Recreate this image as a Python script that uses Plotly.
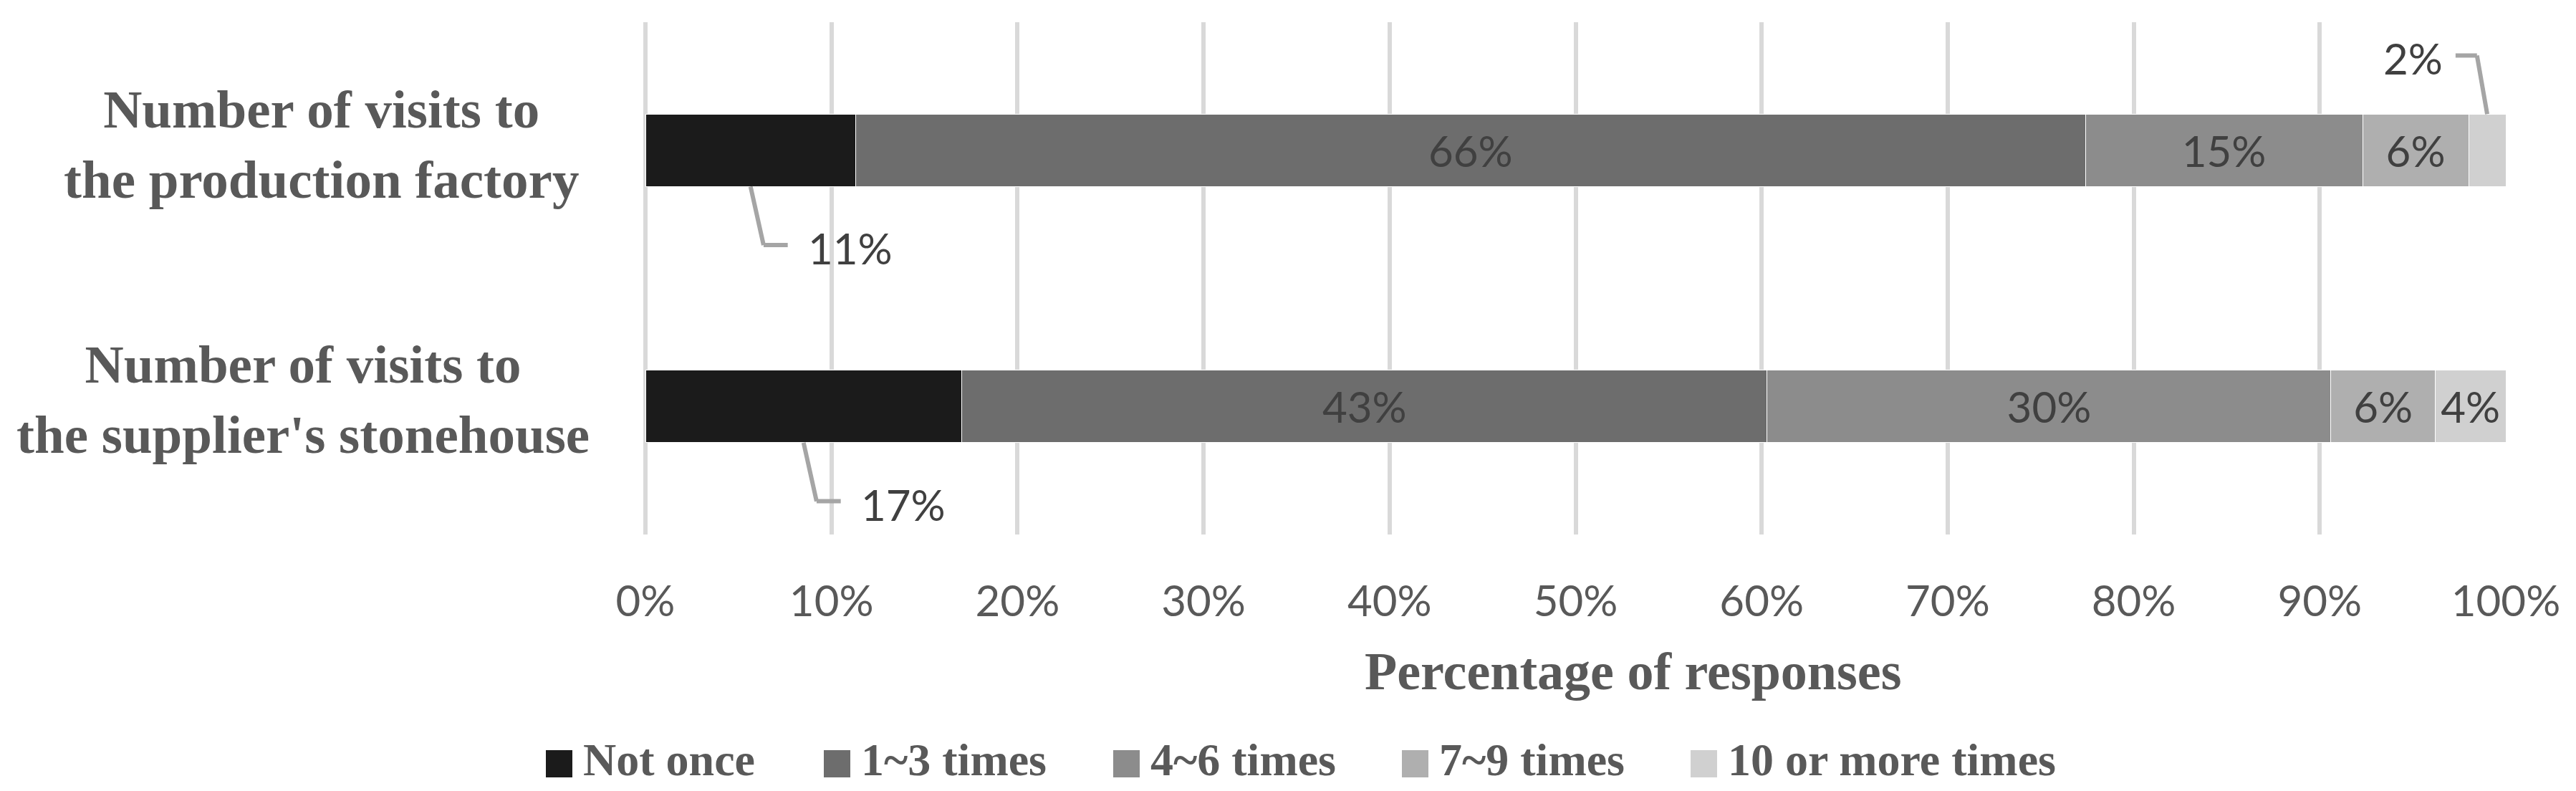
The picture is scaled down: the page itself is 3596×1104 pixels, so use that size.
import plotly.graph_objects as go

# ---------------- data ----------------
categories = ["Number of visits to the production factory",
              "Number of visits to the supplier's stonehouse"]
category_lines = [["Number of visits to", "the production factory"],
                  ["Number of visits to", "the supplier's stonehouse"]]
series_names = ["Not once", "1~3 times", "4~6 times", "7~9 times", "10 or more times"]
not_once = [11.3, 17.0]
times_1_3 = [66.1, 43.3]
times_4_6 = [14.9, 30.3]
times_7_9 = [5.7, 5.6]
times_10_plus = [2.0, 3.8]
x_tick_values = [0, 10, 20, 30, 40, 50, 60, 70, 80, 90, 100]
x_tick_labels = ["0%", "10%", "20%", "30%", "40%", "50%", "60%", "70%", "80%", "90%", "100%"]
x_title = "Percentage of responses"
# labels drawn outside the bar with a leader line: (series index, row index, direction)
outside_labels = [(0, 0, "down"), (0, 1, "down"), (4, 0, "up")]

series_values = [not_once, times_1_3, times_4_6, times_7_9, times_10_plus]

# ---------------- style ----------------
colors = ["#1b1b1b", "#6d6d6d", "#8c8c8c", "#afafaf", "#d0d0d0"]
SERIF = "Liberation Serif"
SANS = "Lato"
TXT = "#595959"
LBL = "#404040"
LEADER = "#a5a5a5"
OFF = 8  # page body margin
W, H = 3596 - OFF, 1104 - OFF
ML, MR, MT, MB = 901 - OFF, 98, 31 - OFF, 358
PW, PH = W - ML - MR, H - MT - MB
BAR_W = 0.283


def px_x(px):  # screen pixel -> paper
    return (px - OFF - ML) / PW


def px_y(py):
    return (H - MB - (py - OFF)) / PH


fig = go.Figure()
outside_set = {(s, r) for s, r, _ in outside_labels}
for si, (name, vals, col) in enumerate(zip(series_names, series_values, colors)):
    texts = ["" if (si, ri) in outside_set else f"{round(v)}%" for ri, v in enumerate(vals)]
    fig.add_trace(go.Bar(
        name=name, y=categories, x=vals, orientation="h", width=BAR_W,
        marker=dict(color=col, line=dict(color="white", width=1)),
        text=texts, textposition="inside", insidetextanchor="middle",
        constraintext="none",
        textfont=dict(family=SANS, size=60, color=LBL),
        showlegend=False, hoverinfo="skip",
    ))

annotations = []
shapes = []

# leader lines + outside data labels
for si, ri, direction in outside_labels:
    start = sum(series_values[k][ri] for k in range(si))
    v = series_values[si][ri]
    mid = start + v / 2
    sign = 1 if direction == "down" else -1
    y_edge = ri + sign * BAR_W / 2
    y_elbow = ri + sign * 0.37
    dx = 0.7 if direction == "down" else -0.55
    dend = 2.0 if direction == "down" else -1.7
    dlab = 3.0 if direction == "down" else -2.3
    line_style = dict(color=LEADER, width=6)
    shapes.append(dict(type="line", xref="x", yref="y", x0=mid, y0=y_edge,
                       x1=mid + dx, y1=y_elbow, line=line_style, layer="above"))
    shapes.append(dict(type="line", xref="x", yref="y", x0=mid + dx, y0=y_elbow,
                       x1=mid + dend, y1=y_elbow, line=line_style, layer="above"))
    annotations.append(dict(
        x=mid + dlab, y=y_elbow, xref="x", yref="y", yshift=-4,
        xanchor="left" if direction == "down" else "right", yanchor="middle",
        text=f"{round(v)}%", showarrow=False,
        font=dict(family=SANS, size=60, color=LBL)))

# category labels
label_centers = [448, 423]
label_shift = [8, 10]
for ri, lines in enumerate(category_lines):
    annotations.append(dict(
        x=px_x(label_centers[ri]), xref="paper", y=categories[ri], yref="y",
        yshift=label_shift[ri], xanchor="center", yanchor="middle", align="center",
        text="<br>".join(lines), showarrow=False,
        font=dict(family=SERIF, size=75, color=TXT, weight="bold")))

# axis title
annotations.append(dict(
    x=px_x(2279), y=px_y(937), xref="paper", yref="paper",
    xanchor="center", yanchor="middle", text=x_title, showarrow=False,
    font=dict(family=SERIF, size=74, color=TXT, weight="bold")))

# legend (drawn manually to match marker size)
legend_left = [762, 1150, 1554, 1957, 2360]
MK = 37
for name, col, lx in zip(series_names, colors, legend_left):
    shapes.append(dict(type="rect", xref="paper", yref="paper",
                       x0=px_x(lx), x1=px_x(lx + MK), y0=px_y(1047), y1=px_y(1085),
                       fillcolor=col, line=dict(width=0), layer="above"))
    annotations.append(dict(
        x=px_x(lx + 50), y=px_y(1060), xref="paper", yref="paper",
        xanchor="left", yanchor="middle", text=name, showarrow=False,
        font=dict(family=SERIF, size=64, color=TXT, weight="bold")))

fig.update_layout(
    barmode="stack",
    width=W, height=H, autosize=False,
    margin=dict(l=ML, r=MR, t=MT, b=MB, pad=0),
    paper_bgcolor="white", plot_bgcolor="white",
    shapes=shapes, annotations=annotations,
    showlegend=False,
    xaxis=dict(range=[0, 100], tickvals=x_tick_values, ticktext=x_tick_labels,
               showgrid=True, gridcolor="#d9d9d9", gridwidth=6,
               zeroline=True, zerolinecolor="#d9d9d9", zerolinewidth=6,
               showline=False, ticks="", ticklabelstandoff=53,
               tickfont=dict(family=SANS, size=60, color=TXT), fixedrange=True),
    yaxis=dict(type="category", categoryorder="array", categoryarray=categories,
               range=[1.5, -0.5], showticklabels=False, showgrid=False,
               zeroline=False, ticks="", fixedrange=True),
)

fig.write_html("out.html")
